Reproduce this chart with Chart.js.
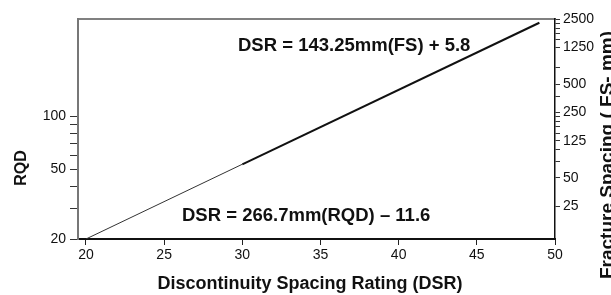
<!DOCTYPE html>
<html><head><meta charset="utf-8">
<script src="https://cdn.jsdelivr.net/npm/chart.js@4.4.0/dist/chart.umd.min.js"></script>
<style>html,body{margin:0;padding:0;background:#fff;overflow:hidden}#wrap{position:relative;width:611px;height:295px}</style>
</head><body><div id="wrap"><canvas id="c" width="611" height="295"></canvas></div>
<script>
// ---- data ----
const xTicks = [20, 25, 30, 35, 40, 45, 50];
const rqdTicks = [20, 30, 40, 50, 60, 70, 80, 90, 100];
const rqdLabels = [20, 50, 100];
const fsTicks = [25, 50, 75, 100, 125, 150, 175, 200, 225, 250, 375, 500, 750, 1250, 1500, 1750, 2000, 2250, 2500];
const fsLabels = [25, 50, 125, 250, 500, 1250, 2500];
const dsrRqd = [20, 30];
const rqdValues = [20, 53.4];
const dsrFs = [30, 49];
const fsValues = [69.7, 2280];
const eqFS = 'DSR = 143.25mm(FS) + 5.8';
const eqRQD = 'DSR = 266.7mm(RQD) – 11.6';
const xTitle = 'Discontinuity Spacing Rating (DSR)';
const yTitle = 'RQD';
const y2Title = 'Fracture Spacing ( FS- mm)';

const FONT = '"Liberation Sans", Arial, sans-serif';

const textPlugin = {
  id: 'texts',
  afterDraw(chart) {
    const ctx = chart.ctx;
    ctx.save();
    ctx.fillStyle = '#111';
    ctx.textBaseline = 'alphabetic';
    ctx.font = 'bold 18.5px ' + FONT;
    ctx.textAlign = 'left';
    ctx.fillText(eqFS, 238, 51);
    ctx.fillText(eqRQD, 182, 221);
    ctx.font = 'bold 18px ' + FONT;
    ctx.textAlign = 'center';
    ctx.fillText(xTitle, 310, 289);
    ctx.save();
    ctx.translate(25.5, 168);
    ctx.rotate(-Math.PI / 2);
    ctx.font = 'bold 16px ' + FONT;
    ctx.fillText(yTitle, 0, 0);
    ctx.restore();
    ctx.save();
    ctx.translate(612.5, 155);
    ctx.rotate(-Math.PI / 2);
    ctx.font = 'bold 19px ' + FONT;
    ctx.fillText(y2Title, 0, 0);
    ctx.restore();
    ctx.restore();
  }
};

new Chart(document.getElementById('c'), {
  type: 'line',
  data: {
    datasets: [
      {
        data: dsrRqd.map((x, i) => ({x: x, y: rqdValues[i]})),
        xAxisID: 'x', yAxisID: 'y',
        borderColor: '#333', borderWidth: 1, pointRadius: 0, fill: false, tension: 0
      },
      {
        data: dsrFs.map((x, i) => ({x: x, y: fsValues[i]})),
        xAxisID: 'x', yAxisID: 'y2',
        borderColor: '#111', borderWidth: 2, pointRadius: 0, fill: false, tension: 0
      }
    ]
  },
  options: {
    responsive: false,
    animation: false,
    devicePixelRatio: 1,
    layout: {padding: 0},
    plugins: {legend: {display: false}, tooltip: {enabled: false}},
    scales: {
      x: {
        type: 'linear', position: 'bottom', min: 19.49, max: 50,
        afterBuildTicks: s => { s.ticks = xTicks.map(v => ({value: v})); },
        afterFit: s => { s.height = 56; },
        ticks: {color: '#111', font: {family: FONT, size: 14}, padding: 2, autoSkip: false, maxRotation: 0},
        grid: {drawOnChartArea: false, drawTicks: true, tickLength: 6, color: '#222', lineWidth: 1},
        border: {display: true, color: '#111', width: 2}
      },
      x2: {
        type: 'linear', position: 'top', min: 19.49, max: 50,
        afterFit: s => { s.height = 19; },
        ticks: {display: false},
        grid: {drawOnChartArea: false, drawTicks: false},
        border: {display: true, color: '#808080', width: 2}
      },
      y: {
        type: 'logarithmic', position: 'left', min: 20, max: 360,
        afterBuildTicks: s => { s.ticks = rqdTicks.map(v => ({value: v})); },
        afterFit: s => { s.width = 78; },
        ticks: {
          color: '#111', font: {family: FONT, size: 14}, padding: 4, autoSkip: false,
          callback: v => rqdLabels.includes(v) ? String(v) : ''
        },
        grid: {drawOnChartArea: false, drawTicks: true, tickLength: 8, color: '#333', lineWidth: 1},
        border: {display: true, color: '#777', width: 2}
      },
      y2: {
        type: 'logarithmic', position: 'right', min: 11.1, max: 2500,
        afterBuildTicks: s => { s.ticks = fsTicks.map(v => ({value: v})); },
        afterFit: s => { s.width = 56; },
        ticks: {
          color: '#111', font: {family: FONT, size: 14}, padding: 3, autoSkip: false,
          callback: v => fsLabels.includes(v) ? String(v) : ''
        },
        grid: {drawOnChartArea: false, drawTicks: true, tickLength: 5, color: '#333', lineWidth: 1},
        border: {display: true, color: '#111', width: 1.5}
      }
    }
  },
  plugins: [textPlugin]
});
</script>
</body></html>
